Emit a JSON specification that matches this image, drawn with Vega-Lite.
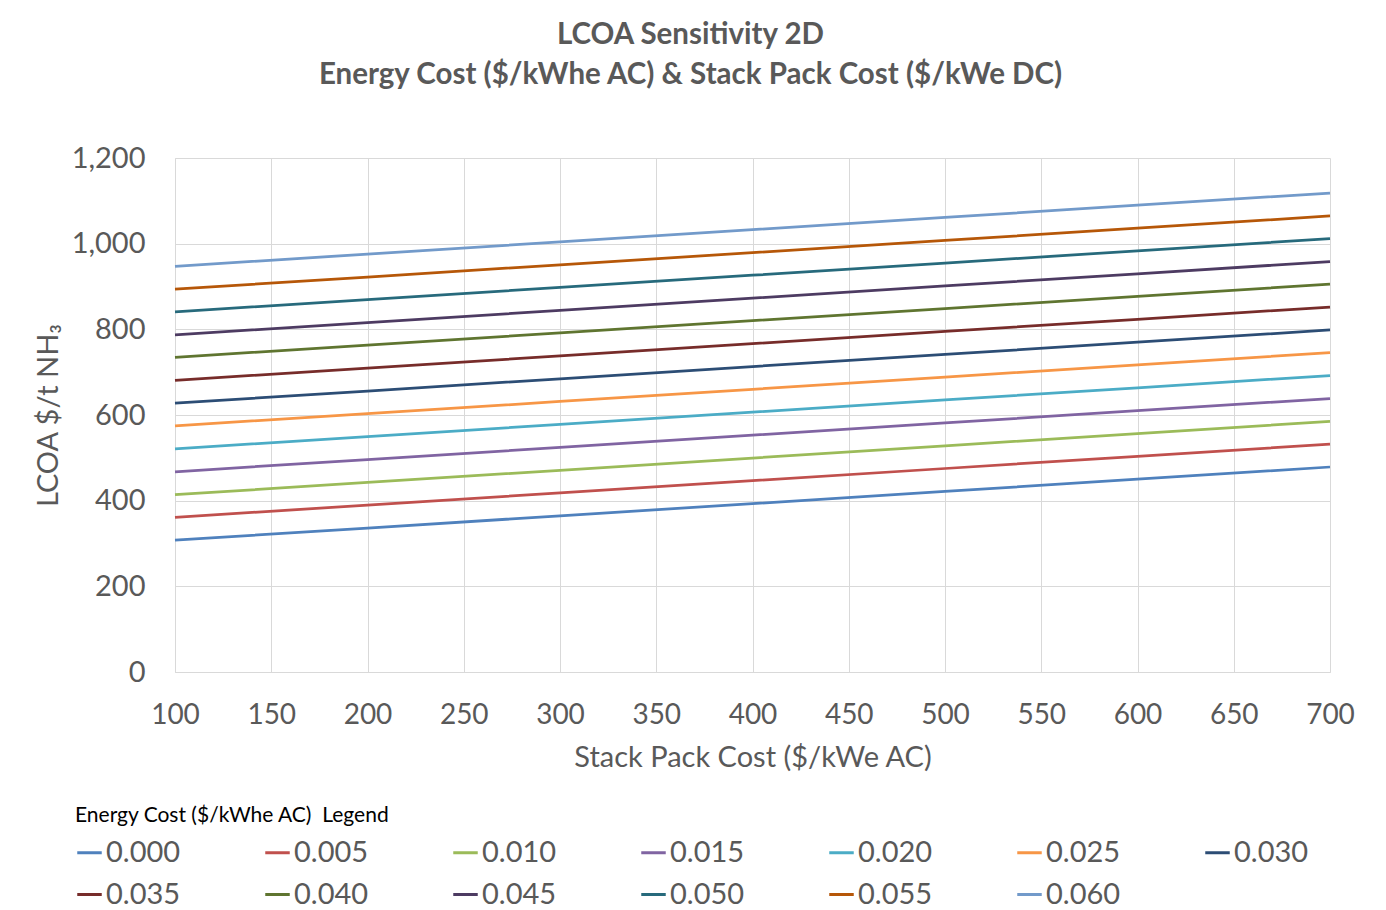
{
  "$schema": "https://vega.github.io/schema/vega-lite/v6.json",
  "width": 1155,
  "height": 514,
  "autosize": {"type": "none"},
  "padding": {"left": 175, "top": 158, "right": 56, "bottom": 238},
  "background": "white",
  "config": {
    "font": "Lato",
    "view": {"stroke": null},
    "axis": {"labelColor": "#595959", "titleColor": "#595959", "labelFont": "Lato", "titleFont": "Lato", "gridColor": "#D9D9D9", "domainColor": "#D9D9D9", "ticks": false}
  },
  "title": {
    "text": ["LCOA Sensitivity 2D", "Energy Cost ($/kWhe AC) & Stack Pack Cost ($/kWe DC)"],
    "font": "Lato",
    "fontSize": 29.5,
    "fontWeight": "bold",
    "color": "#595959",
    "anchor": "middle",
    "dx": -62,
    "offset": 54,
    "lineHeight": 40
  },
  "data": {
    "values": [
      {"e": "0.000", "x": 100, "y": 307.6}, {"e": "0.000", "x": 200, "y": 336.1}, {"e": "0.000", "x": 300, "y": 364.6}, {"e": "0.000", "x": 400, "y": 393.1}, {"e": "0.000", "x": 500, "y": 421.6}, {"e": "0.000", "x": 600, "y": 450.1}, {"e": "0.000", "x": 700, "y": 478.6},
      {"e": "0.005", "x": 100, "y": 361.1}, {"e": "0.005", "x": 200, "y": 389.6}, {"e": "0.005", "x": 300, "y": 418.1}, {"e": "0.005", "x": 400, "y": 446.6}, {"e": "0.005", "x": 500, "y": 475.1}, {"e": "0.005", "x": 600, "y": 503.6}, {"e": "0.005", "x": 700, "y": 532.1},
      {"e": "0.010", "x": 100, "y": 414.0}, {"e": "0.010", "x": 200, "y": 442.5}, {"e": "0.010", "x": 300, "y": 471.0}, {"e": "0.010", "x": 400, "y": 499.5}, {"e": "0.010", "x": 500, "y": 528.0}, {"e": "0.010", "x": 600, "y": 556.5}, {"e": "0.010", "x": 700, "y": 585.0},
      {"e": "0.015", "x": 100, "y": 467.5}, {"e": "0.015", "x": 200, "y": 496.0}, {"e": "0.015", "x": 300, "y": 524.5}, {"e": "0.015", "x": 400, "y": 553.0}, {"e": "0.015", "x": 500, "y": 581.5}, {"e": "0.015", "x": 600, "y": 610.0}, {"e": "0.015", "x": 700, "y": 638.5},
      {"e": "0.020", "x": 100, "y": 521.1}, {"e": "0.020", "x": 200, "y": 549.6}, {"e": "0.020", "x": 300, "y": 578.1}, {"e": "0.020", "x": 400, "y": 606.6}, {"e": "0.020", "x": 500, "y": 635.1}, {"e": "0.020", "x": 600, "y": 663.6}, {"e": "0.020", "x": 700, "y": 692.1},
      {"e": "0.025", "x": 100, "y": 574.6}, {"e": "0.025", "x": 200, "y": 603.1}, {"e": "0.025", "x": 300, "y": 631.6}, {"e": "0.025", "x": 400, "y": 660.1}, {"e": "0.025", "x": 500, "y": 688.6}, {"e": "0.025", "x": 600, "y": 717.1}, {"e": "0.025", "x": 700, "y": 745.6},
      {"e": "0.030", "x": 100, "y": 627.5}, {"e": "0.030", "x": 200, "y": 656.0}, {"e": "0.030", "x": 300, "y": 684.5}, {"e": "0.030", "x": 400, "y": 713.0}, {"e": "0.030", "x": 500, "y": 741.5}, {"e": "0.030", "x": 600, "y": 770.0}, {"e": "0.030", "x": 700, "y": 798.5},
      {"e": "0.035", "x": 100, "y": 681.0}, {"e": "0.035", "x": 200, "y": 709.5}, {"e": "0.035", "x": 300, "y": 738.0}, {"e": "0.035", "x": 400, "y": 766.5}, {"e": "0.035", "x": 500, "y": 795.0}, {"e": "0.035", "x": 600, "y": 823.5}, {"e": "0.035", "x": 700, "y": 852.0},
      {"e": "0.040", "x": 100, "y": 734.6}, {"e": "0.040", "x": 200, "y": 763.1}, {"e": "0.040", "x": 300, "y": 791.6}, {"e": "0.040", "x": 400, "y": 820.1}, {"e": "0.040", "x": 500, "y": 848.6}, {"e": "0.040", "x": 600, "y": 877.1}, {"e": "0.040", "x": 700, "y": 905.6},
      {"e": "0.045", "x": 100, "y": 787.2}, {"e": "0.045", "x": 200, "y": 815.7}, {"e": "0.045", "x": 300, "y": 844.2}, {"e": "0.045", "x": 400, "y": 872.7}, {"e": "0.045", "x": 500, "y": 901.2}, {"e": "0.045", "x": 600, "y": 929.7}, {"e": "0.045", "x": 700, "y": 958.2},
      {"e": "0.050", "x": 100, "y": 840.8}, {"e": "0.050", "x": 200, "y": 869.3}, {"e": "0.050", "x": 300, "y": 897.8}, {"e": "0.050", "x": 400, "y": 926.3}, {"e": "0.050", "x": 500, "y": 954.8}, {"e": "0.050", "x": 600, "y": 983.3}, {"e": "0.050", "x": 700, "y": 1011.8},
      {"e": "0.055", "x": 100, "y": 893.6}, {"e": "0.055", "x": 200, "y": 922.1}, {"e": "0.055", "x": 300, "y": 950.6}, {"e": "0.055", "x": 400, "y": 979.1}, {"e": "0.055", "x": 500, "y": 1007.6}, {"e": "0.055", "x": 600, "y": 1036.1}, {"e": "0.055", "x": 700, "y": 1064.6},
      {"e": "0.060", "x": 100, "y": 947.2}, {"e": "0.060", "x": 200, "y": 975.7}, {"e": "0.060", "x": 300, "y": 1004.2}, {"e": "0.060", "x": 400, "y": 1032.7}, {"e": "0.060", "x": 500, "y": 1061.2}, {"e": "0.060", "x": 600, "y": 1089.7}, {"e": "0.060", "x": 700, "y": 1118.2}
    ]
  },
  "mark": {"type": "line", "strokeWidth": 2.75},
  "encoding": {
    "x": {
      "field": "x", "type": "quantitative",
      "scale": {"domain": [100, 700], "nice": false, "zero": false},
      "axis": {"values": [100,150,200,250,300,350,400,450,500,550,600,650,700], "title": "Stack Pack Cost ($/kWe AC)", "labelFontSize": 28, "titleFontSize": 29, "titleFontWeight": "normal", "labelPadding": 29, "titlePadding": 14, "labelFlush": false, "grid": true}
    },
    "y": {
      "field": "y", "type": "quantitative",
      "scale": {"domain": [0, 1200], "nice": false},
      "axis": {"values": [0,200,400,600,800,1000,1200], "format": ",d", "title": "LCOA $/t NH₃", "labelFontSize": 29, "titleFontSize": 29, "titleFontWeight": "normal", "labelPadding": 30, "titlePadding": 8, "grid": true}
    },
    "color": {
      "field": "e", "type": "nominal",
      "scale": {
        "domain": ["0.000","0.005","0.010","0.015","0.020","0.025","0.030","0.035","0.040","0.045","0.050","0.055","0.060"],
        "range": ["#4F81BD","#C0504D","#9BBB59","#8064A2","#4BACC6","#F79646","#2C4D75","#772C2A","#5F7530","#4D3B62","#276A7C","#B65708","#729ACA"]
      },
      "legend": {
        "title": "Energy Cost ($/kWhe AC)\u00a0 Legend",
        "titleFont": "Lato", "titleFontSize": 21, "titleFontWeight": "normal", "titleColor": "#000000", "titlePadding": 12, "titleLimit": 600,
        "orient": "none", "direction": "horizontal", "legendX": -100, "legendY": 647,
        "columns": 7, "columnPadding": 78, "rowPadding": 12,
        "labelFont": "Lato", "labelFontSize": 29, "labelColor": "#595959", "labelOffset": 2,
        "symbolType": "stroke", "symbolSize": 600, "symbolStrokeWidth": 3,
        "gridAlign": "all"
      }
    }
  }
}
